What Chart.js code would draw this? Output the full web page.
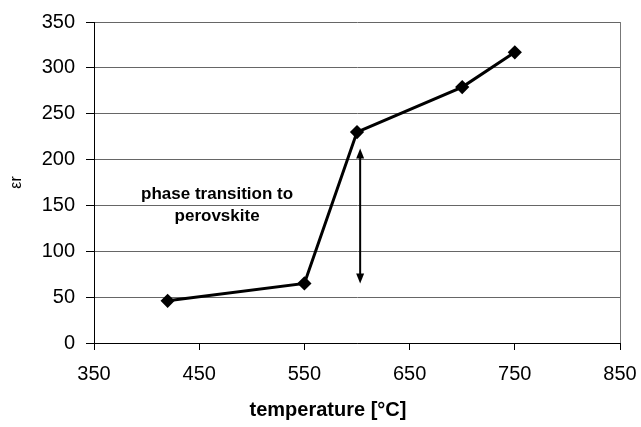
<!DOCTYPE html>
<html>
<head>
<meta charset="utf-8">
<script src="https://cdn.jsdelivr.net/npm/chart.js@4"></script>
<style>
html,body{margin:0;padding:0;background:#fff;}
#wrap{width:641px;height:427px;}
</style>
</head>
<body>
<div id="wrap"><canvas id="c" width="641" height="427"></canvas></div>
<script>
// dados
const temps=[420,550,600,700,750];
const epsR=[46,65,230,279,317];
const xTicks=[350,450,550,650,750,850];
const yTicks=[0,50,100,150,200,250,300,350];
// seta da transição de fase (x, y inicial, y final)
const arrowX=[603];
const arrowY=[212,65];
const noteLines=['phase transition to','perovskite'];
const notePos=[467,150];
const xTitle='temperature [°C]';
const yTitle='εr';

const FONT='"Liberation Sans", Arial, sans-serif';

const extras={
  id:'extras',
  afterDatasetsDraw(chart){
    const {ctx,scales:{x,y}}=chart;
    ctx.save();
    // seta dupla
    const ax=x.getPixelForValue(arrowX[0]);
    const y1=y.getPixelForValue(arrowY[0]),y2=y.getPixelForValue(arrowY[1]);
    ctx.strokeStyle='#000';ctx.fillStyle='#000';ctx.lineWidth=2;
    ctx.beginPath();ctx.moveTo(ax,y1+8);ctx.lineTo(ax,y2-8);ctx.stroke();
    const head=(yy,dir)=>{ctx.beginPath();ctx.moveTo(ax,yy);ctx.lineTo(ax-4,yy+dir*10);ctx.lineTo(ax+4,yy+dir*10);ctx.closePath();ctx.fill();};
    head(y1,1);head(y2,-1);
    // texto
    ctx.font='bold 17px '+FONT;ctx.textAlign='center';ctx.textBaseline='middle';
    const tx=x.getPixelForValue(notePos[0]),ty=y.getPixelForValue(notePos[1]);
    ctx.fillText(noteLines[0],tx,ty-11);
    ctx.fillText(noteLines[1],tx,ty+11);
    // título eixo x
    ctx.font='bold 20px '+FONT;
    ctx.fillText(xTitle,328,410);
    ctx.restore();
  }
};

new Chart(document.getElementById('c'),{
  type:'scatter',
  data:{datasets:[{
    data:temps.map((t,i)=>({x:t,y:epsR[i]})),
    showLine:true,borderColor:'#000',backgroundColor:'#000',borderWidth:3,
    pointStyle:'rectRot',pointRadius:5,pointHoverRadius:5,tension:0
  }]},
  options:{
    responsive:false,animation:false,devicePixelRatio:1,
    layout:{padding:{top:22,right:21,left:7,bottom:0}},
    plugins:{legend:{display:false},tooltip:{enabled:false}},
    scales:{
      x:{type:'linear',min:350,max:850,
        afterBuildTicks:s=>{s.ticks=xTicks.map(v=>({value:v}));},
        afterFit:s=>{s.height=84;s.paddingLeft=0;s.paddingRight=0;},
        grid:{color:c=>c.index===xTicks.length-1?'#777':'rgba(0,0,0,0)',tickColor:'#000',tickLength:7,lineWidth:1},
        border:{color:'#000',width:1},
        ticks:{color:'#000',font:{family:FONT,size:20},padding:12,maxRotation:0}
      },
      y:{type:'linear',min:0,max:350,
        afterBuildTicks:s=>{s.ticks=yTicks.map(v=>({value:v}));},
        afterFit:s=>{s.width=87;s.paddingTop=0;s.paddingBottom=0;},
        grid:{color:'#666',tickColor:'#000',tickLength:8,lineWidth:1},
        border:{color:'#000',width:1},
        ticks:{color:'#000',font:{family:FONT,size:20},padding:11},
        title:{display:true,text:yTitle,color:'#000',font:{family:FONT,size:16},padding:0}
      }
    }
  },
  plugins:[extras]
});
</script>
</body>
</html>
